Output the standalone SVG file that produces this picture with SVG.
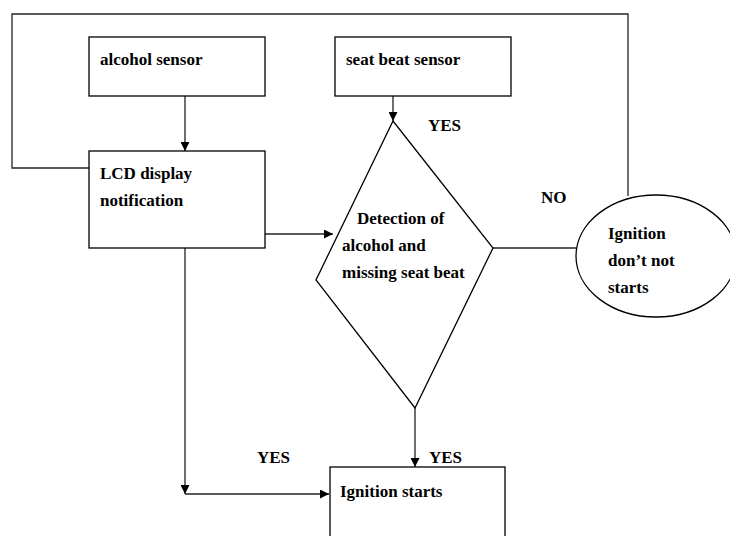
<svg xmlns="http://www.w3.org/2000/svg" width="730" height="536" viewBox="0 0 730 536">
<style>
.box{fill:#fff;stroke:#000;stroke-width:1.3}
.ln{fill:none;stroke:#222;stroke-width:1.3}
text{font-family:"Liberation Serif","Times New Roman",serif;font-weight:bold;font-size:17px;fill:#000}
</style>
<defs>
<marker id="ah" viewBox="0 0 10 10" refX="10" refY="5" markerWidth="9" markerHeight="9" markerUnits="userSpaceOnUse" orient="auto">
<path d="M0,0 L10,5 L0,10 Z" fill="#000"/>
</marker>
</defs>
<rect width="730" height="536" fill="#fff"/>
<g id="connectors">
<polyline class="ln" points="89,168 12,168 12,14 628,14 628,196"/>
<line class="ln" x1="185" y1="96" x2="185" y2="151" marker-end="url(#ah)"/>
<line class="ln" x1="393" y1="96" x2="393" y2="121" marker-end="url(#ah)"/>
<line class="ln" x1="265" y1="234" x2="333" y2="234" marker-end="url(#ah)"/>
<line class="ln" x1="493" y1="248" x2="577" y2="248"/>
<line class="ln" x1="415" y1="408" x2="415" y2="467" marker-end="url(#ah)"/>
<line class="ln" x1="185" y1="248" x2="185" y2="494" marker-end="url(#ah)"/>
<line class="ln" x1="185" y1="494" x2="329" y2="494" marker-end="url(#ah)"/>
<text x="428" y="131">YES</text>
<text x="541" y="203">NO</text>
<text x="257" y="463">YES</text>
<text x="429" y="463">YES</text>
</g>
<g id="alcohol-sensor">
<rect class="box" x="89" y="37" width="176" height="59"/>
<text x="100" y="65">alcohol sensor</text>
</g>
<g id="seat-beat-sensor">
<rect class="box" x="335" y="37" width="176" height="59"/>
<text x="346" y="65">seat beat sensor</text>
</g>
<g id="lcd-display">
<rect class="box" x="89" y="151" width="176" height="97"/>
<text x="100" y="179">LCD display</text>
<text x="100" y="206">notification</text>
</g>
<g id="detection">
<polygon class="box" points="393,121 493,248 415,408 316,280"/>
<text x="357" y="224">Detection of</text>
<text x="342" y="251">alcohol and</text>
<text x="342" y="278">missing seat beat</text>
</g>
<g id="ignition-not">
<ellipse class="box" cx="656" cy="256" rx="80" ry="61"/>
<text x="608" y="239">Ignition</text>
<text x="608" y="266">don’t not</text>
<text x="608" y="293">starts</text>
</g>
<g id="ignition-starts">
<rect class="box" x="330" y="467" width="175" height="80"/>
<text x="340" y="497">Ignition starts</text>
</g>
</svg>
